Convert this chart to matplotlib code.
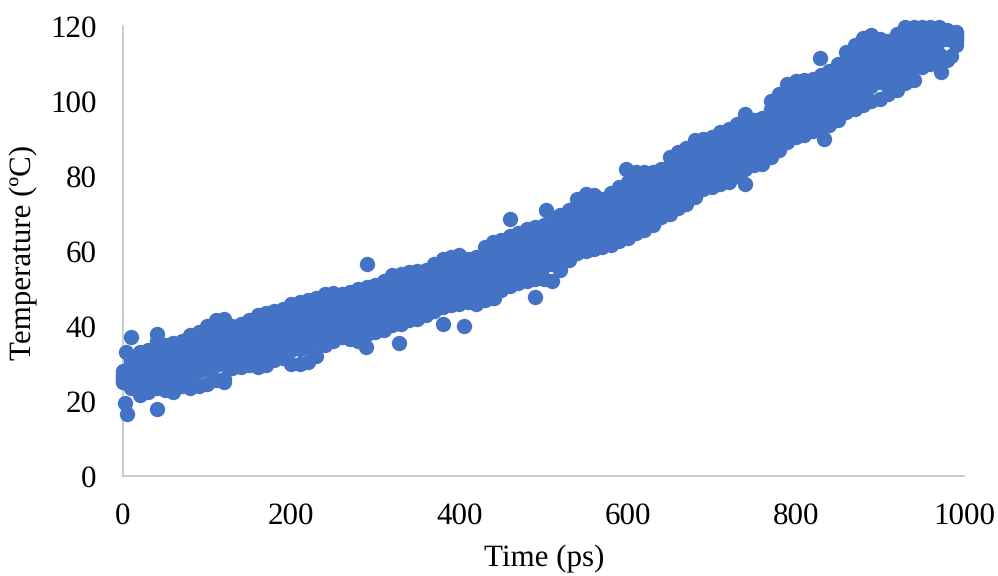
#!/usr/bin/python3
import matplotlib
matplotlib.use('Agg')
import matplotlib.pyplot as plt

plt.rcParams['text.hinting'] = 'none'
plt.rcParams['text.hinting_factor'] = 1

# band, every 20 ps
time_a = [0, 20, 40, 60, 80, 100, 120, 140, 160, 180, 200, 220, 240, 260, 280, 300, 320, 340, 360, 380,
          400, 420, 440, 460, 480, 500, 520, 540, 560, 580, 600, 620, 640, 660, 680, 700, 720, 740, 760, 780,
          800, 820, 840, 860, 880, 900, 920, 940, 960, 980]
temp_upper = [28, 33, 36, 35.5, 37.5, 40, 42, 40.5, 43, 44, 46, 47, 48.5, 48.5, 50, 51, 53.5, 54.5, 55, 57.8,
              58.9, 58.5, 62.5, 64, 66, 67, 69.5, 74, 75, 75.5, 78.5, 81, 82, 86.5, 89.5, 90.5, 92.5, 96.5, 95.5, 102,
              105.4, 106, 108, 113, 116.7, 116.5, 118, 119.8, 119.8, 119]
temp_top = [27.5, 31.5, 34, 34, 35.5, 38, 40, 39, 41, 42, 44, 45, 46.5, 47, 48, 49, 51.5, 52.5, 53, 55.5,
            57, 56.5, 60.5, 62, 64, 65, 67.5, 72, 73, 73.5, 76.5, 79, 80, 84.5, 87.5, 88.5, 90.5, 94.5, 94, 100,
            103, 104, 106, 111, 114.5, 114.5, 116, 118, 118.5, 118.5]
temp_high = [27, 30, 32, 32.5, 33.5, 36, 38, 37, 39.5, 40, 42, 43.5, 44.5, 45, 46.5, 47, 49.5, 50.5, 51, 53.5,
             55, 55, 58.5, 60, 62, 63.5, 65.5, 69.5, 71, 71.5, 74.5, 77, 78.5, 82.5, 85, 86.5, 88, 92, 92, 98,
             101, 102, 104, 108.5, 112.5, 112.5, 114.5, 116, 117, 118]
temp_upmid = [26.5, 29, 30.5, 31, 32, 34, 35.5, 35.5, 37.5, 38, 39.5, 41, 42.5, 43, 44.5, 45, 47.5, 48.5, 49, 51.5,
              53, 53, 56.5, 58, 60, 61.5, 63.5, 67, 69, 69.5, 72, 75, 77, 80.5, 83, 85, 86, 90, 90.5, 96,
              99, 100, 102, 106.5, 110, 110.5, 112.5, 114, 115.5, 117.5]
temp_mid = [26, 28, 29, 29, 30, 32, 33, 34, 35.5, 36, 37, 38.5, 40, 41, 42.5, 43, 45, 46.5, 47.5, 49.5,
            51, 51, 54.5, 56, 58, 59.5, 61.5, 65, 67, 67.5, 70, 73, 75, 78.5, 81, 83, 84, 88, 89, 94,
            97, 98, 100, 104.5, 108, 109, 111, 112.5, 114, 117]
temp_lomid = [25.5, 26.5, 27.5, 27.5, 28.5, 30, 31.5, 33, 33.5, 34.5, 35, 36.5, 38.5, 40, 41, 42, 44, 45, 46, 48,
              49.5, 50, 52.5, 54.5, 56.5, 57.5, 60, 63.5, 65, 66, 68, 71, 73.5, 76.5, 79, 81.5, 82.5, 86.5, 87.5, 92,
              95, 96.5, 98.5, 102.5, 105.5, 107, 109, 110.5, 112, 117]
temp_low = [25, 25, 26.5, 26, 27, 28.5, 30, 31.5, 32, 33.5, 33.5, 34.5, 37.5, 39, 39.5, 41, 42.5, 43.5, 45, 47,
            48.5, 48.5, 51, 53, 55, 56, 58, 62, 63.5, 64.5, 66.5, 69, 72, 74.5, 77.5, 80, 81, 85, 86, 90.5,
            93.5, 95, 97, 100.5, 103, 105, 107, 109, 110.5, 116.5]
temp_lower = [25, 21.5, 23.5, 22.3, 23.6, 24.5, 26, 29, 29, 31, 30, 30.3, 35, 37, 36, 38.5, 40.4, 41.5, 43, 45,
              46, 46, 47.5, 50.7, 52, 52.5, 55, 59.5, 60.5, 61.5, 63.5, 65.5, 69, 71.5, 74.5, 77, 78.5, 82, 83.2, 87,
              90.5, 92, 93.5, 97, 99, 100.5, 103, 105.5, 110, 111]

# same band in between, rougher edges
time_b = [10, 30, 50, 70, 90, 110, 130, 150, 170, 190, 210, 230, 250, 270, 290, 310, 330, 350, 370, 390,
          410, 430, 450, 470, 490, 510, 530, 550, 570, 590, 610, 630, 650, 670, 690, 710, 730, 750, 770, 790,
          810, 830, 850, 870, 890, 910, 930, 950, 970, 990]
temp_b_upper = [31, 33.5, 35, 36, 38.5, 41.5, 40, 41.5, 43.5, 44.5, 46.5, 47.5, 48.7, 49, 50.3, 52, 54, 54.7, 56.5, 58.5,
                58, 61, 63, 64.7, 66.3, 68, 71, 75.3, 73.8, 77, 81, 81, 85, 87.5, 90, 91.8, 94, 95, 100, 104.5,
                105.7, 107, 110, 115, 117.5, 116, 119.8, 119.8, 119.8, 118.5]
temp_b_top = [30, 32.5, 33.5, 34.5, 37, 39.5, 38.5, 40, 41.5, 42.5, 44.5, 45.5, 47, 47, 48.5, 50, 52, 53, 54.5, 56.5,
              56, 59, 61, 62.5, 64.5, 66, 69, 73, 72, 75, 79, 79, 83, 85.5, 88, 90, 92, 93.5, 98, 102,
              103.5, 105, 108, 113, 115, 114, 117.5, 118, 118.5, 118]
temp_b_high = [29.5, 31, 32, 33, 35, 37.5, 37, 38.5, 40, 40.5, 42.5, 44, 45, 45.5, 47, 48, 50, 51, 52.5, 54.5,
               54.5, 57, 59, 60.5, 62.5, 64, 67, 70.5, 70.5, 73, 76.5, 77.5, 81, 83.5, 86, 87.5, 90, 91.5, 96, 100,
               101.5, 103, 106, 110.5, 112.5, 112, 115.5, 116.5, 117.5, 118]
temp_b_upmid = [29, 30, 31, 31.5, 33.5, 35, 35.5, 37, 38, 39, 40.5, 42, 43, 44, 45, 46, 48, 49, 50.5, 52.5,
                53, 55, 57, 58.5, 60.5, 62, 65, 68.5, 69, 71, 74.5, 76, 79, 81.5, 84, 85.5, 88, 90, 94, 98,
                99.5, 101, 104, 108, 110.5, 110.5, 113.5, 115, 116, 117.5]
temp_b_mid = [28, 29, 30, 30, 32, 33, 34, 35, 36, 37, 38, 39.5, 41, 42, 43.5, 44, 46, 47, 49, 50.5,
              51, 53, 55.5, 57, 59, 60.5, 63.5, 66.5, 67.5, 69.5, 72.5, 74, 77, 79.5, 82, 84, 86.5, 88, 92, 96,
              97.5, 99, 102, 106, 108.5, 108.5, 111.5, 113.5, 116.5, 117]
temp_b_lomid = [27, 27, 28, 28.5, 30, 31, 32.5, 33.5, 34.5, 35.5, 36, 37.5, 39.5, 41, 42, 43, 44.5, 46, 47.5, 49,
                50, 51.5, 54, 55.5, 57, 58.5, 62, 64.5, 66, 67.5, 70.5, 72, 75, 78, 80.5, 82.5, 85, 86.5, 90, 94,
                95.5, 97.5, 100.5, 104, 106, 107, 110, 112, 112.5, 116.5]
temp_b_low = [26, 25.5, 26, 27, 28, 29.5, 31.5, 32, 33, 34.5, 34, 36, 38.5, 39.5, 40.5, 41.5, 43, 44.5, 46, 47.5,
              49, 50, 52.5, 54, 55.5, 56.5, 60.5, 63, 64.5, 66, 68.5, 70.5, 73.5, 76, 79, 81, 83, 85, 88.5, 92.5,
              94, 96, 99, 102, 104, 105.5, 108, 111, 112, 116]
temp_b_lower = [23.5, 22.5, 23, 24, 24, 25.5, 28.7, 29.5, 29.5, 31.5, 30, 32, 36, 36.5, 38, 39, 40.5, 42, 44, 45.5,
                46.5, 47, 49.5, 51.5, 52.5, 52, 57.5, 60, 61, 62.7, 64.8, 67, 70, 72.5, 76.5, 77.8, 80, 83, 85, 89,
                91, 93, 95, 98, 100, 102, 104.8, 109, 109.5, 115]

# stray points away from the band
time_out = [2, 5, 10, 40, 41, 3, 120, 290, 289, 328, 380, 405, 441, 460, 490, 503, 598, 740, 829, 833, 973, 985]
temp_out = [19.5, 16.5, 37, 38, 18, 33, 25, 56.5, 34.5, 35.5, 40.5, 40, 47.5, 68.5, 47.7, 71, 82, 78, 111.5, 90, 107.8, 112]

fig = plt.figure(figsize=(9.98, 5.76), dpi=100)
ax = fig.add_axes([123/998, 1-476/576, (964-123)/998, (476-26)/576])

rows_a = [temp_upper, temp_top, temp_high, temp_upmid, temp_mid, temp_lomid, temp_low, temp_lower]
rows_b = [temp_b_upper, temp_b_top, temp_b_high, temp_b_upmid, temp_b_mid, temp_b_lomid, temp_b_low, temp_b_lower]
for v in rows_a:
    ax.scatter(time_a, v, s=122, color="#4472C4", linewidths=0, clip_on=False, zorder=3)
for v in rows_b:
    ax.scatter(time_b, v, s=122, color="#4472C4", linewidths=0, clip_on=False, zorder=3)
ax.scatter(time_out, temp_out, s=122, color="#4472C4", linewidths=0, clip_on=False, zorder=3)

ax.set_xlim(0, 1000)
ax.set_ylim(0, 120)
ax.set_xticks([0, 200, 400, 600, 800, 1000])
ax.set_yticks([0, 20, 40, 60, 80, 100, 120])
ax.tick_params(length=0, pad=19, labelsize=22.5, labelfontfamily="Liberation Serif")
ax.tick_params(axis='x', pad=19)

for s in ['top', 'right']:
    ax.spines[s].set_visible(False)
for s in ['left', 'bottom']:
    ax.spines[s].set_color("#BFBFBF")
    ax.spines[s].set_linewidth(1.1)

fig.text(544/998, 1-559/576, "Time (ps)", ha='center', va='center', fontsize=22.5, family="Liberation Serif")
fig.text(24/998, 1-252/576, "Temperature (ºC)", ha='center', va='center', rotation=90, fontsize=22.5, family="Liberation Serif")

plt.savefig("out.png", dpi=100)
